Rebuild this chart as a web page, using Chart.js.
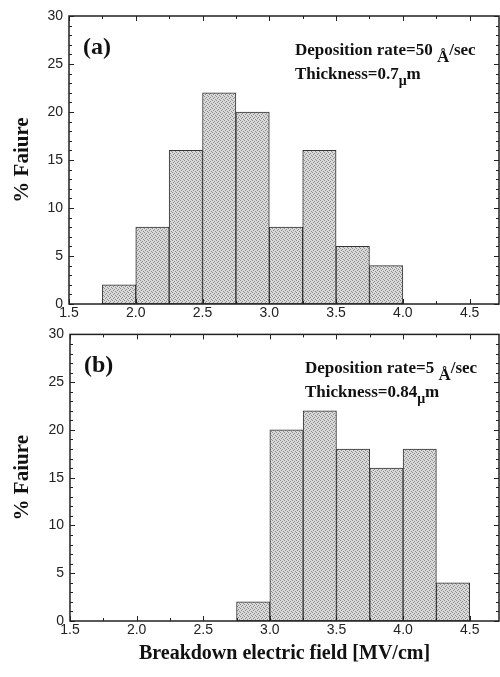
<!DOCTYPE html>
<html>
<head>
<meta charset="utf-8">
<script src="https://cdn.jsdelivr.net/npm/chart.js@4.4.1/dist/chart.umd.min.js"></script>
<style>
  html, body { margin: 0; padding: 0; background: #fff; }
  .panel { position: relative; width: 500px; }
  canvas { display: block; }
</style>
</head>
<body>
<div class="panel" style="height:320px"><canvas id="panelA" width="500" height="320"></canvas></div>
<div class="panel" style="height:357px"><canvas id="panelB" width="500" height="357"></canvas></div>
<script>
// Histogram bins (centers, width 0.25 MV/cm) and % failure
const binCentersA = [1.875, 2.125, 2.375, 2.625, 2.875, 3.125, 3.375, 3.625, 3.875];
const failureA = [2, 8, 16, 22, 20, 8, 16, 6, 4];

const binCentersB = [2.875, 3.125, 3.375, 3.625, 3.875, 4.125, 4.375];
const failureB = [2, 20, 22, 18, 16, 18, 4];

const xTickLabels = ['1.5', '2.0', '2.5', '3.0', '3.5', '4.0', '4.5'];
const yTickLabels = ['0', '5', '10', '15', '20', '25', '30'];

const X_MIN = 1.5, X_MAX = 4.72;
const Y_MIN = 0, Y_MAX = 30;

// grey stipple fill like the scanned figure
function stipple() {
    const c = document.createElement('canvas');
    c.width = c.height = 4;
    const g = c.getContext('2d');
    g.fillStyle = '#d9d9d9';
    g.fillRect(0, 0, 4, 4);
    g.fillStyle = '#8c8c8c';
    [[0, 0], [2, 1], [1, 2], [3, 3]].forEach(([px, py]) => g.fillRect(px, py, 1, 1));
    return g.createPattern(c, 'repeat');
}

// Frame, inward ticks on all four sides, and panel labels
const frameTicks = {
    id: 'frameTicks',
    afterDatasetsDraw(chart, args, opts) {
        const { ctx, chartArea: a, scales: { x, y } } = chart;
        ctx.save();
        ctx.strokeStyle = '#222';
        ctx.lineWidth = 1;
        // x ticks every 0.25, major every 0.5
        for (let i = 0; X_MIN + i * 0.25 <= X_MAX; i++) {
            const px = Math.round(x.getPixelForValue(X_MIN + i * 0.25)) + 0.5;
            const len = i % 2 === 0 ? 5 : 3;
            ctx.beginPath();
            ctx.moveTo(px, a.bottom); ctx.lineTo(px, a.bottom - len);
            ctx.moveTo(px, a.top); ctx.lineTo(px, a.top + len);
            ctx.stroke();
        }
        // y ticks every 1, major every 5
        for (let v = Y_MIN; v <= Y_MAX; v++) {
            const py = Math.round(y.getPixelForValue(v)) + 0.5;
            const len = v % 5 === 0 ? 5 : 3;
            ctx.beginPath();
            ctx.moveTo(a.left, py); ctx.lineTo(a.left + len, py);
            ctx.moveTo(a.right, py); ctx.lineTo(a.right - len, py);
            ctx.stroke();
        }
        ctx.lineWidth = 1.5;
        ctx.strokeRect(a.left, a.top, a.right - a.left, a.bottom - a.top);

        // panel letter
        ctx.fillStyle = '#111';
        ctx.textBaseline = 'alphabetic';
        ctx.font = 'bold 24px "Liberation Serif"';
        ctx.fillText(opts.letter, a.left + 14, a.top + 38);

        // annotation lines made of (text, drop, size) segments
        opts.lines.forEach((segs, li) => {
            let cx = a.left + opts.textX;
            const base = a.top + 39 + li * 24;
            segs.forEach(([txt, drop, size]) => {
                ctx.font = 'bold ' + size + 'px "Liberation Serif"';
                ctx.fillText(txt, cx, base + drop);
                cx += ctx.measureText(txt).width;
            });
        });
        ctx.restore();
    }
};

function makePanel(canvasId, centers, values, cfg) {
    const ctx = document.getElementById(canvasId).getContext('2d');
    return new Chart(ctx, {
        type: 'bar',
        data: {
            datasets: [{
                data: centers.map((c, i) => ({ x: c, y: values[i] })),
                backgroundColor: stipple(),
                borderColor: '#333',
                borderWidth: 1,
                borderSkipped: false,
                barPercentage: 1,
                categoryPercentage: 1,
            }],
        },
        options: {
            responsive: false,
            animation: false,
            layout: { padding: { top: cfg.top, right: 1, left: 0, bottom: 0 } },
            plugins: {
                legend: { display: false },
                tooltip: { enabled: false },
                frameTicks: { letter: cfg.letter, lines: cfg.lines, textX: cfg.textX },
            },
            scales: {
                x: {
                    type: 'linear',
                    offset: false,
                    min: X_MIN,
                    max: X_MAX,
                    grid: { display: false, drawTicks: false, offset: false },
                    border: { display: false },
                    ticks: {
                        stepSize: 0.5,
                        includeBounds: false,
                        autoSkip: false,
                        maxRotation: 0,
                        padding: 1,
                        color: '#222',
                        font: { family: '"Liberation Sans"', size: 14 },
                        callback: (v) => xTickLabels.includes(v.toFixed(1)) ? v.toFixed(1) : '',
                    },
                    title: {
                        display: cfg.xTitle,
                        text: 'Breakdown electric field [MV/cm]',
                        color: '#111',
                        font: { family: '"Liberation Serif"', size: 20, weight: 'bold' },
                        padding: { top: 0, bottom: 11 },
                    },
                    afterFit: (s) => { s.height = cfg.xHeight; },
                },
                y: {
                    min: Y_MIN,
                    max: Y_MAX,
                    grid: { display: false, drawTicks: false },
                    border: { display: false },
                    ticks: {
                        stepSize: 5,
                        padding: 6,
                        color: '#222',
                        font: { family: '"Liberation Sans"', size: 14 },
                        callback: (v) => yTickLabels.includes(String(v)) ? String(v) : '',
                    },
                    title: {
                        display: true,
                        text: '% Faiure',
                        color: '#111',
                        font: { family: '"Liberation Serif"', size: 21, weight: 'bold' },
                        padding: { top: 10, bottom: 0 },
                    },
                    afterFit: (s) => { s.width = cfg.yWidth; },
                },
            },
        },
        plugins: [frameTicks],
    });
}

makePanel('panelA', binCentersA, failureA, {
    top: 16, xHeight: 16, yWidth: 69, xTitle: false, letter: '(a)', textX: 226,
    lines: [
        [['Deposition rate=50 ', 0, 17], ['Å', 7, 17], ['/sec', 0, 17]],
        [['Thickness=0.7', 0, 17], ['μ', 6, 14], ['m', 0, 17]],
    ],
});

makePanel('panelB', binCentersB, failureB, {
    top: 14, xHeight: 56, yWidth: 70, xTitle: true, letter: '(b)', textX: 235,
    lines: [
        [['Deposition rate=5 ', 0, 17], ['Å', 7, 17], ['/sec', 0, 17]],
        [['Thickness=0.84', 0, 17], ['μ', 6, 14], ['m', 0, 17]],
    ],
});
</script>
</body>
</html>
